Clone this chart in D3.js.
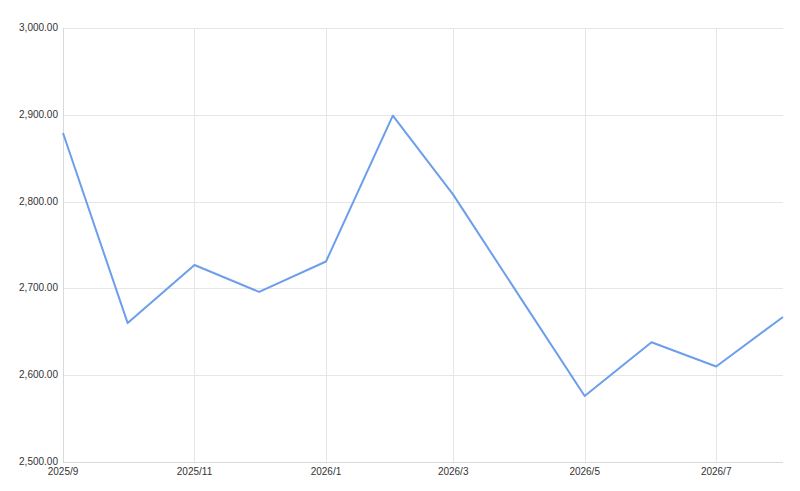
<!DOCTYPE html>
<html><head><meta charset="utf-8">
<script src="https://cdn.jsdelivr.net/npm/d3@7"></script>
<style>body{margin:0;background:#fff}svg{display:block}text{font-family:"Liberation Sans",Arial,sans-serif}</style>
</head><body><svg id="c" width="800" height="491"></svg>
<script>
const categories = ["2025/9","2025/10","2025/11","2025/12","2026/1","2026/2","2026/3","2026/4","2026/5","2026/6","2026/7","2026/8"];
const values = [2879, 2660, 2727, 2696, 2731, 2899, 2808, 2690, 2576, 2638, 2610, 2667];
const yTicks = [2500, 2600, 2700, 2800, 2900, 3000];
const xTickLabels = ["2025/9","2025/11","2026/1","2026/3","2026/5","2026/7"];

const parse = s => { const [yy, mm] = s.split("/").map(Number); return new Date(yy, mm - 1, 1); };
const svg = d3.select("#c");
const m = {l:63, r:783, t:28, b:462};
const x = d3.scaleTime().domain([parse(categories[0]), parse(categories[categories.length-1])]).range([m.l, m.r]);
const y = d3.scaleLinear().domain([2500, 3000]).range([m.b, m.t]);
const fmt = d3.format(",.2f");

// horizontal grid
svg.append("g").selectAll("line").data(yTicks).join("line")
  .attr("x1", m.l).attr("x2", m.r)
  .attr("y1", d => Math.round(y(d)) + 0.5).attr("y2", d => Math.round(y(d)) + 0.5)
  .attr("stroke", d => d === 2500 ? "#d9d9d9" : "#e6e6e6").attr("stroke-width", 1);
// vertical grid
svg.append("g").selectAll("line").data(xTickLabels).join("line")
  .attr("x1", d => Math.round(x(parse(d))) + 0.5).attr("x2", d => Math.round(x(parse(d))) + 0.5)
  .attr("y1", m.t).attr("y2", m.b)
  .attr("stroke", (d,i) => i === 0 ? "#d9d9d9" : "#e6e6e6").attr("stroke-width", 1);

// y labels
svg.append("g").selectAll("text").data(yTicks).join("text")
  .attr("x", 58).attr("y", d => y(d) + 3)
  .attr("text-anchor", "end").attr("font-size", 10).attr("fill", "#333")
  .text(d => fmt(d));
// x labels
svg.append("g").selectAll("text").data(xTickLabels).join("text")
  .attr("x", d => x(parse(d))).attr("y", m.b + 13)
  .attr("text-anchor", "middle").attr("font-size", 10).attr("fill", "#333")
  .text(d => d);

// line
const line = d3.line().x((d,i) => x(parse(categories[i]))).y(d => y(d));
svg.append("path").datum(values)
  .attr("d", line).attr("fill", "none")
  .attr("stroke", "#6d9eeb").attr("stroke-width", 2).attr("stroke-linejoin", "round");
</script></body></html>
